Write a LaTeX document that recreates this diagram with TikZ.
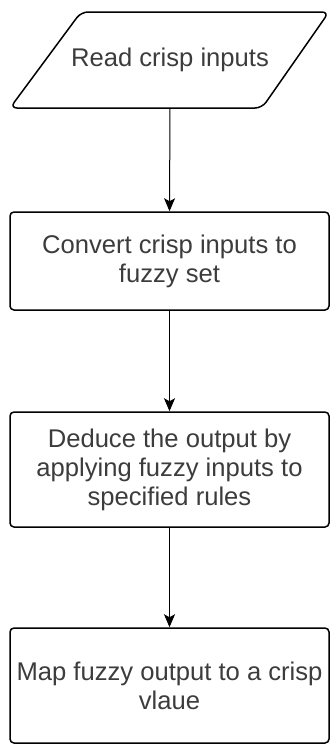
\documentclass[tikz,border=0pt]{standalone}
\usepackage{fontspec}
\setmainfont{Liberation Sans}
\usetikzlibrary{arrows.meta}

\definecolor{testo}{RGB}{60,60,60}

\begin{document}
\begin{tikzpicture}[x=1pt,y=-1pt,line join=round,
    font=\fontsize{25.6}{29}\selectfont,
    bordo/.style={draw,line width=1.5pt},
    passo/.style={bordo,rounded corners=4pt,text=testo,
      align=center,minimum width=319pt,inner sep=2pt},
    freccia/.style={line width=1pt,-{Stealth[length=13pt,width=11pt,inset=3pt]}}]

  % cornice fissa dell'immagine
  \useasboundingbox (0,0) rectangle (331,745);

  % ---- dato in ingresso: parallelogramma disegnato a mano ----------------
  \draw[bordo,rounded corners=7pt] (10,108) -- (81,12) -- (329,12)
       -- (262,108) -- cycle;
  \node[text=testo,minimum height=96pt,inner sep=0pt] (leggi) at (170,60)
       {Read crisp inputs};

  % ---- blocchi del diagramma -------------------------------------------
  \node[passo,minimum height=98pt] (converti) at (169.5,261)
       {Convert crisp inputs to\\fuzzy set};
  \node[passo,minimum height=115pt] (deduci) at (169.5,469.5)
       {Deduce the output by\\applying fuzzy inputs to\\specified rules};
  \node[passo,minimum height=115pt] (mappa) at (169.5,685.5)
       {Map fuzzy output to a crisp\\vlaue};

  % ---- frecce ------------------------------------------------------------
  \draw[freccia] (leggi.south) -- (converti.north);
  \draw[freccia] (converti.south) -- (deduci.north);
  \draw[freccia] (deduci.south) -- (mappa.north);

\end{tikzpicture}
\end{document}
